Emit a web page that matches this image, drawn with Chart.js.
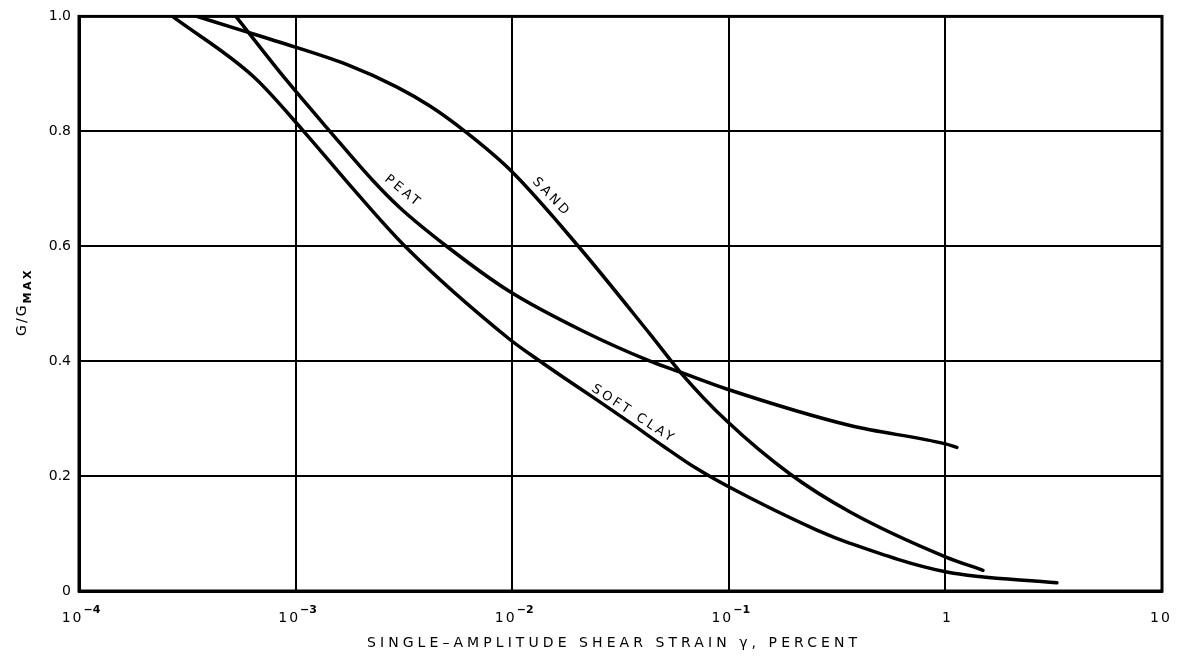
<!DOCTYPE html>
<html>
<head>
<meta charset="utf-8">
<script src="https://cdn.jsdelivr.net/npm/chart.js@4/dist/chart.umd.min.js"></script>
<style>
    html, body { margin: 0; padding: 0; background: #fff; }
    #wrap { width: 1179px; height: 659px; position: relative; }
</style>
</head>
<body>
<div id="wrap"><canvas id="chart"></canvas></div>
<script>
// Strain values (percent) and G/Gmax
const sandStrain = [0.00035, 0.00055, 0.000847, 0.00173, 0.00294, 0.00417, 0.00605, 0.00977, 0.0202, 0.0433, 0.0606, 0.0971, 0.191, 0.363, 1.0, 1.49];
const sandG      = [1.0, 0.977, 0.955, 0.916, 0.877, 0.844, 0.80, 0.733, 0.60, 0.447, 0.378, 0.297, 0.204, 0.1375, 0.0595, 0.036];

const peatStrain = [0.00053, 0.00088, 0.00144, 0.00229, 0.00303, 0.00498, 0.00966, 0.0213, 0.0433, 0.0606, 0.097, 0.363, 1.0, 1.13];
const peatG      = [1.0, 0.895, 0.80, 0.713, 0.667, 0.60, 0.522, 0.452, 0.40, 0.38, 0.352, 0.288, 0.256, 0.250];

const clayStrain = [0.00027, 0.00064, 0.00109, 0.00172, 0.0032, 0.00966, 0.0121, 0.0172, 0.0245, 0.035, 0.0499, 0.0711, 0.1014, 0.255, 0.363, 1.0, 3.27];
const clayG      = [1.0, 0.895, 0.80, 0.713, 0.60, 0.439, 0.412, 0.372, 0.333, 0.293, 0.252, 0.213, 0.180, 0.106, 0.083, 0.0335, 0.0144];

const xTicks = [0.0001, 0.001, 0.01, 0.1, 1, 10];
const xTickExp = [-4, -3, -2, -1, 0, 1];
const yTicks = [0, 0.2, 0.4, 0.6, 0.8, 1.0];
const yTickLabels = ['0', '0.2', '0.4', '0.6', '0.8', '1.0'];

// curve labels: text, anchor (strain, G), angle in degrees
const curveLabels = [
    { text: 'PEAT', x: 0.0031, y: 0.697, angle: 39 },
    { text: 'SAND', x: 0.0150, y: 0.687, angle: 46 },
    { text: 'SOFT CLAY', x: 0.0359, y: 0.309, angle: 33 }
];

const FONT = '"DejaVu Sans", sans-serif';

function toPoints(xs, ys) {
    return xs.map((x, i) => ({ x: x, y: ys[i] }));
}

function curve(label, xs, ys) {
    return {
        label: label,
        data: toPoints(xs, ys),
        showLine: true,
        borderColor: '#000',
        borderWidth: 3.5,
        pointRadius: 0,
        cubicInterpolationMode: 'monotone',
        borderCapStyle: 'round'
    };
}

const annotations = {
    id: 'annotations',
    afterDraw(chart) {
        const ctx = chart.ctx;
        const xs = chart.scales.x;
        const ys = chart.scales.y;
        const area = chart.chartArea;
        ctx.save();
        ctx.fillStyle = '#000';

        // frame
        ctx.strokeStyle = '#000';
        ctx.lineWidth = 3;
        ctx.strokeRect(area.left, area.top, area.right - area.left, area.bottom - area.top);

        // x tick labels with superscripts
        ctx.textBaseline = 'alphabetic';
        ctx.textAlign = 'left';
        xTicks.forEach((v, i) => {
            const px = xs.getPixelForValue(v);
            const e = xTickExp[i];
            ctx.font = '14px ' + FONT;
            ctx.letterSpacing = '2px';
            if (e === 0 || e === 1) {
                const t = e === 0 ? '1' : '10';
                const w = ctx.measureText(t).width - 2;
                ctx.fillText(t, px - w / 2 + (e === 1 ? -2 : 1), 622);
            } else {
                const wb = ctx.measureText('10').width;
                const sup = '\u2212' + Math.abs(e);
                ctx.font = 'bold 11px ' + FONT;
                ctx.letterSpacing = '0px';
                const ws = ctx.measureText(sup).width;
                const bx = px + 2 - (wb + ws) / 2;
                ctx.font = '14px ' + FONT;
                ctx.letterSpacing = '2px';
                ctx.fillText('10', bx, 622);
                ctx.font = 'bold 11px ' + FONT;
                ctx.letterSpacing = '0px';
                ctx.fillText(sup, bx + wb, 613);
            }
        });
        ctx.letterSpacing = '0px';

        // x axis title
        const xTitle = 'SINGLE\u2013AMPLITUDE SHEAR STRAIN \u03b3, PERCENT';
        ctx.font = '14px ' + FONT;
        const raw = ctx.measureText(xTitle).width;
        const spacing = (490 - raw) / (xTitle.length - 1);
        ctx.letterSpacing = spacing.toFixed(2) + 'px';
        ctx.fillText(xTitle, 612 - 245, 647);
        ctx.letterSpacing = '0px';

        // y axis title G/G_MAX
        ctx.save();
        ctx.translate(26, 302);
        ctx.rotate(-Math.PI / 2);
        ctx.font = '14px ' + FONT;
        ctx.letterSpacing = '2px';
        const main = 'G/G';
        const wm = ctx.measureText(main).width;
        ctx.font = 'bold 11px ' + FONT;
        ctx.letterSpacing = '2.5px';
        const wsub = ctx.measureText('MAX').width;
        const start = -(wm + wsub) / 2;
        ctx.font = '14px ' + FONT;
        ctx.letterSpacing = '2px';
        ctx.fillText(main, start, 0);
        ctx.font = 'bold 11px ' + FONT;
        ctx.letterSpacing = '2.5px';
        ctx.fillText('MAX', start + wm, 5);
        ctx.restore();

        // curve labels
        curveLabels.forEach(l => {
            const px = xs.getPixelForValue(l.x);
            const py = ys.getPixelForValue(l.y);
            ctx.save();
            ctx.translate(px, py);
            ctx.rotate(l.angle * Math.PI / 180);
            ctx.font = '13px ' + FONT;
            ctx.letterSpacing = '3px';
            ctx.textAlign = 'center';
            ctx.textBaseline = 'middle';
            ctx.fillText(l.text, 1.5, 0);
            ctx.restore();
        });

        ctx.restore();
    }
};

document.addEventListener('DOMContentLoaded', () => {
    const ctx = document.getElementById('chart').getContext('2d');
    new Chart(ctx, {
        type: 'scatter',
        data: {
            datasets: [
                curve('Sand', sandStrain, sandG),
                curve('Peat', peatStrain, peatG),
                curve('Soft clay', clayStrain, clayG)
            ]
        },
        options: {
            responsive: true,
            maintainAspectRatio: false,
            animation: false,
            layout: { padding: { top: 14, right: 17, left: 0, bottom: 0 } },
            plugins: {
                legend: { display: false },
                tooltip: { enabled: false }
            },
            scales: {
                x: {
                    type: 'logarithmic',
                    min: 0.0001,
                    max: 10,
                    afterBuildTicks: scale => {
                        scale.ticks = xTicks.map(v => ({ value: v }));
                    },
                    afterFit: scale => { scale.height = 68; },
                    ticks: { display: false },
                    grid: { color: '#000', lineWidth: 2, drawTicks: false },
                    border: { display: true, color: '#000', width: 3 }
                },
                y: {
                    min: 0,
                    max: 1,
                    afterBuildTicks: scale => {
                        scale.ticks = yTicks.map(v => ({ value: v }));
                    },
                    afterFit: scale => { scale.width = 79; },
                    ticks: {
                        color: '#000',
                        padding: 8,
                        font: { family: FONT, size: 14 },
                        callback: (v) => yTickLabels[yTicks.indexOf(v)] ?? ''
                    },
                    grid: { color: '#000', lineWidth: 2, drawTicks: false },
                    border: { display: true, color: '#000', width: 3 }
                }
            }
        },
        plugins: [annotations]
    });
});
</script>
</body>
</html>
